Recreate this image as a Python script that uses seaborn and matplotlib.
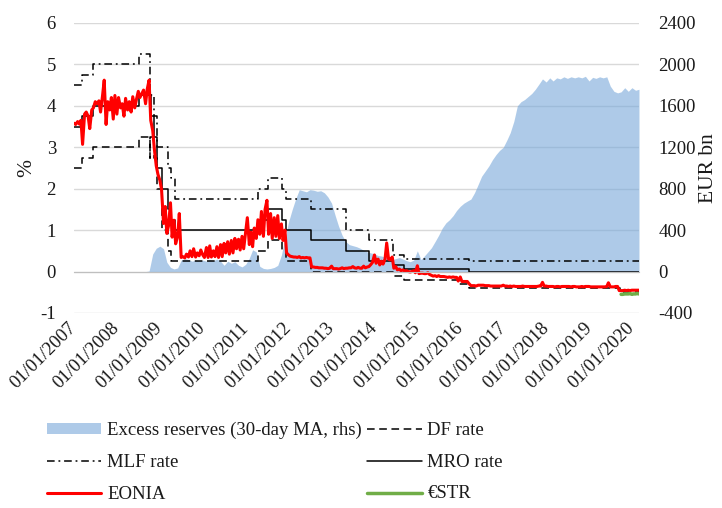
import matplotlib
matplotlib.use('Agg')
import pandas as pd
import matplotlib.pyplot as plt
import matplotlib.dates as mdates
import seaborn as sns

# ECB policy rates: change dates (last entry = end of chart)
change_dates = ['2007-01-01', '2007-03-14', '2007-06-13', '2008-07-09', '2008-10-08',
                '2008-10-09', '2008-10-15', '2008-11-12', '2008-12-10', '2009-01-21',
                '2009-03-11', '2009-04-08', '2009-05-13', '2011-04-13', '2011-07-13',
                '2011-11-09', '2011-12-14', '2012-07-11', '2013-05-08', '2013-11-13',
                '2014-06-11', '2014-09-10', '2015-12-09', '2016-03-16', '2019-09-18',
                '2020-03-01']
mro_rate = [3.50, 3.75, 4.00, 4.25, 4.25, 4.25, 3.75, 3.25, 2.50, 2.00, 1.50, 1.25, 1.00,
            1.25, 1.50, 1.25, 1.00, 0.75, 0.50, 0.25, 0.15, 0.05, 0.05, 0.00, 0.00, 0.00]
df_rate = [2.50, 2.75, 3.00, 3.25, 2.75, 3.25, 3.25, 2.75, 2.00, 1.00, 0.50, 0.25, 0.25,
           0.50, 0.75, 0.50, 0.25, 0.00, 0.00, 0.00, -0.10, -0.20, -0.30, -0.40, -0.50, -0.50]
mlf_rate = [4.50, 4.75, 5.00, 5.25, 4.75, 4.25, 4.25, 3.75, 3.00, 3.00, 2.50, 2.25, 1.75,
            2.00, 2.25, 2.00, 1.75, 1.50, 1.00, 0.75, 0.40, 0.30, 0.30, 0.25, 0.25, 0.25]

# EONIA, read on the 1st and 15th of each month
eonia_2007 = [3.58, 3.55, 3.62, 3.56, 3.65, 3.07, 3.80, 3.85, 3.75, 3.45, 3.90, 3.95,
              4.10, 4.05, 4.12, 3.85, 4.25, 4.62, 3.55, 4.10, 3.90, 4.20, 3.68, 4.25]
eonia_2008 = [3.80, 4.20, 3.95, 4.05, 3.75, 4.18, 3.90, 4.10, 3.85, 4.22, 3.95, 4.15,
              4.35, 4.20, 4.30, 4.38, 4.05, 4.40, 4.62, 3.65, 3.40, 2.95, 2.55, 2.35]
eonia_2009 = [2.20, 1.98, 1.16, 1.57, 0.92, 1.10, 1.66, 0.83, 1.24, 0.67, 0.85, 1.40,
              0.34, 0.36, 0.33, 0.42, 0.35, 0.50, 0.36, 0.55, 0.35, 0.45, 0.38, 0.52]
eonia_2010 = [0.40, 0.34, 0.58, 0.34, 0.62, 0.35, 0.50, 0.36, 0.60, 0.34, 0.65, 0.36,
              0.68, 0.45, 0.72, 0.42, 0.75, 0.45, 0.80, 0.55, 0.78, 0.52, 0.85, 0.55]
eonia_2011 = [0.95, 1.30, 0.65, 0.95, 0.60, 1.05, 0.80, 1.25, 0.90, 1.45, 0.85, 1.50,
              1.72, 0.90, 1.40, 0.80, 1.30, 0.85, 1.35, 0.80, 1.15, 0.75, 1.00, 0.45]
eonia_2012 = [0.40, 0.37, 0.36, 0.35, 0.35, 0.34, 0.36, 0.33, 0.34, 0.33, 0.34, 0.33,
              0.33, 0.11, 0.11, 0.10, 0.10, 0.09, 0.09, 0.09, 0.08, 0.08, 0.07, 0.08]
eonia_2013 = [0.13, 0.07, 0.07, 0.07, 0.06, 0.07, 0.09, 0.07, 0.08, 0.08, 0.09, 0.09,
              0.12, 0.09, 0.08, 0.10, 0.08, 0.08, 0.13, 0.09, 0.11, 0.12, 0.17, 0.22]
eonia_2014 = [0.40, 0.20, 0.30, 0.16, 0.25, 0.18, 0.30, 0.69, 0.30, 0.28, 0.35, 0.08,
              0.12, 0.04, 0.06, 0.02, 0.04, 0.01, 0.02, 0.00, -0.01, 0.00, 0.02, -0.03]
eonia_2015 = [0.14, -0.05, -0.04, -0.04, -0.05, -0.05, -0.03, -0.07, -0.09, -0.11, -0.10, -0.12,
              -0.10, -0.12, -0.12, -0.12, -0.13, -0.14, -0.13, -0.14, -0.13, -0.14, -0.14, -0.23]
eonia_2016 = [-0.13, -0.24, -0.24, -0.24, -0.24, -0.29, -0.34, -0.34, -0.34, -0.35, -0.33, -0.33,
              -0.33, -0.33, -0.34, -0.34, -0.34, -0.35, -0.35, -0.35, -0.35, -0.35, -0.35, -0.35]
eonia_2017 = [-0.33, -0.35, -0.35, -0.36, -0.35, -0.36, -0.35, -0.36, -0.36, -0.36, -0.36, -0.35,
              -0.36, -0.36, -0.36, -0.36, -0.36, -0.36, -0.36, -0.36, -0.35, -0.35, -0.26, -0.35]
eonia_2018 = [-0.35, -0.36, -0.36, -0.36, -0.36, -0.37, -0.36, -0.36, -0.37, -0.36, -0.36, -0.36,
              -0.36, -0.36, -0.37, -0.36, -0.36, -0.37, -0.37, -0.37, -0.36, -0.37, -0.36, -0.36]
eonia_2019 = [-0.36, -0.37, -0.37, -0.37, -0.37, -0.37, -0.37, -0.37, -0.37, -0.37, -0.36, -0.27,
              -0.37, -0.37, -0.37, -0.36, -0.36, -0.46, -0.46, -0.46, -0.45, -0.46, -0.45, -0.46]
eonia_2020 = [-0.45, -0.45, -0.45, -0.45, -0.45]

estr_values = [-0.55, -0.55, -0.54, -0.54, -0.54, -0.53, -0.55, -0.54, -0.54, -0.53, -0.54]

# excess reserves, EUR bn, 30-day MA, monthly readings
reserves_2007 = [0, 0, 0, 0, 0, 0, 0, 0, 0, 0, 0, 0]
reserves_2008 = [0, 0, 0, 0, 0, 0, 0, 0, 0, 5, 170, 225]
reserves_2009 = [245, 220, 90, 40, 25, 35, 110, 125, 115, 100, 110, 105]
reserves_2010 = [110, 100, 115, 105, 120, 100, 60, 100, 80, 95, 60, 45]
reserves_2011 = [70, 130, 210, 190, 50, 30, 25, 30, 40, 60, 160, 320]
reserves_2012 = [480, 600, 700, 790, 780, 770, 790, 785, 775, 780, 760, 720]
reserves_2013 = [660, 540, 440, 350, 290, 260, 250, 240, 225, 205, 190, 180]
reserves_2014 = [170, 155, 150, 140, 120, 115, 125, 135, 120, 105, 95, 110]
reserves_2015 = [200, 115, 150, 190, 230, 290, 350, 420, 470, 500, 540, 590]
reserves_2016 = [630, 660, 680, 700, 760, 840, 920, 970, 1020, 1080, 1130, 1170]
reserves_2017 = [1200, 1270, 1340, 1450, 1600, 1640, 1660, 1690, 1720, 1760, 1810, 1860]
reserves_2018 = [1830, 1870, 1840, 1870, 1860, 1880, 1865, 1880, 1870, 1880, 1870, 1885]
reserves_2019 = [1840, 1875, 1865, 1880, 1870, 1880, 1790, 1740, 1725, 1735, 1775, 1740]
reserves_2020 = [1775, 1750, 1760]

eonia = (eonia_2007 + eonia_2008 + eonia_2009 + eonia_2010 + eonia_2011 + eonia_2012
         + eonia_2013 + eonia_2014 + eonia_2015 + eonia_2016 + eonia_2017 + eonia_2018
         + eonia_2019 + eonia_2020)
reserves = (reserves_2007 + reserves_2008 + reserves_2009 + reserves_2010 + reserves_2011
            + reserves_2012 + reserves_2013 + reserves_2014 + reserves_2015 + reserves_2016
            + reserves_2017 + reserves_2018 + reserves_2019 + reserves_2020)

eonia_dates = pd.date_range('2007-01-01', '2020-03-01', freq='SMS')
estr_dates = pd.date_range('2019-10-01', '2020-03-01', freq='SMS')
reserve_dates = pd.date_range('2007-01-01', '2020-03-01', freq='MS')

rates = pd.DataFrame({'date': pd.to_datetime(change_dates), 'MRO': mro_rate,
                      'DF': df_rate, 'MLF': mlf_rate})

sns.set_style('white')
plt.rcParams['font.family'] = ['Liberation Serif', 'DejaVu Serif']
plt.rcParams['axes.unicode_minus'] = False
TEXT = '#1a1a1a'
FS = 13.5

fig = plt.figure(figsize=(7.22, 5.08), dpi=100)
ax = fig.add_axes([0.1025, 0.3839, 0.7825, 0.5709])
ax2 = ax.twinx()
ax.set_zorder(ax2.get_zorder() + 1)
ax.patch.set_visible(False)

# excess reserves area on the right axis, grid drawn underneath it
ax2.set_axisbelow(True)
ax2.yaxis.grid(True, color='#D9D9D9', lw=1)
ax2.fill_between(reserve_dates, 0, reserves, color='#78A8DA', alpha=0.6, lw=0,
                 label='Excess reserves (30-day MA, rhs)')

sns.lineplot(data=rates, x='date', y='DF', ax=ax, color='black', lw=1.1,
             linestyle=(0, (5, 3)), drawstyle='steps-post', legend=False, label='DF rate')
sns.lineplot(data=rates, x='date', y='MLF', ax=ax, color='black', lw=1.1,
             linestyle=(0, (5, 2.5, 1.2, 2.5)), drawstyle='steps-post', legend=False,
             label='MLF rate')
sns.lineplot(data=rates, x='date', y='MRO', ax=ax, color='black', lw=1.1,
             drawstyle='steps-post', legend=False, label='MRO rate')
sns.lineplot(x=eonia_dates, y=eonia, ax=ax, color='#FF0000', lw=2.2, legend=False, label='EONIA')
sns.lineplot(x=estr_dates, y=estr_values, ax=ax, color='#70AD47', lw=2.5, legend=False,
             label='\u20acSTR')

ax.set_xlim(pd.Timestamp('2007-01-01'), pd.Timestamp('2020-03-01'))
ax.set_ylim(-1, 6)
ax2.set_ylim(-400, 2400)
ax.set_yticks(range(-1, 7))
ax2.set_yticks(range(-400, 2401, 400))
ax.xaxis.set_major_locator(mdates.YearLocator())
ax.xaxis.set_major_formatter(mdates.DateFormatter('%d/%m/%Y'))

for s in ['top', 'left', 'right']:
    ax.spines[s].set_visible(False)
for s in ax2.spines.values():
    s.set_visible(False)
ax.spines['bottom'].set_position(('data', 0))
ax.spines['bottom'].set_color('#BFBFBF')

ax.tick_params(axis='x', length=5, color='#BFBFBF', pad=34, labelsize=FS, labelcolor=TEXT)
plt.setp(ax.get_xticklabels(), rotation=45, ha='right', va='center', rotation_mode='anchor')
ax.tick_params(axis='y', length=0, pad=13, labelsize=FS, labelcolor=TEXT)
ax2.tick_params(axis='y', length=0, pad=14, labelsize=FS, labelcolor=TEXT)

ax.set_xlabel('')
ax.set_ylabel('%', fontsize=15.5, color=TEXT)
ax.yaxis.set_label_coords(-0.066, 0.5)
ax2.set_ylabel('EUR bn', fontsize=15.5, color=TEXT)
ax2.yaxis.set_label_coords(1.106, 0.5)

# legend below the plot, filled column by column
h1, l1 = ax.get_legend_handles_labels()
h2, l2 = ax2.get_legend_handles_labels()
lookup = dict(zip(l1 + l2, h1 + h2))
order = ['Excess reserves (30-day MA, rhs)', 'MLF rate', 'EONIA',
         'DF rate', 'MRO rate', '\u20acSTR']
fig.legend([lookup[k] for k in order], order, ncol=2, loc='upper left',
           bbox_to_anchor=(47 / 722, 1 - 422 / 508), frameon=False, fontsize=FS,
           labelcolor=TEXT, handlelength=2.9, handletextpad=0.3, columnspacing=0.3,
           labelspacing=0.78, borderaxespad=0, borderpad=0, handleheight=0.5)

fig.savefig('out.png', dpi=100)
